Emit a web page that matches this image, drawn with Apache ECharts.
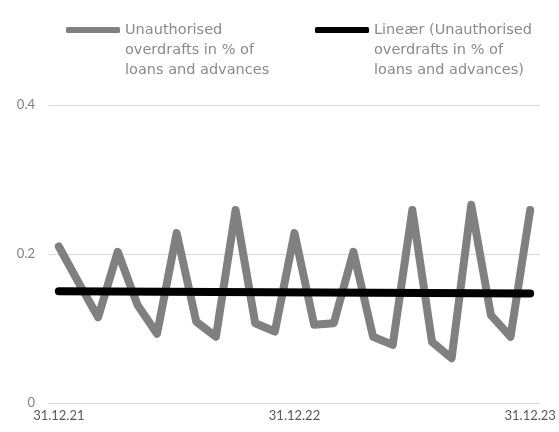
<!DOCTYPE html>
<html>
<head>
<meta charset="utf-8">
<script src="https://cdn.jsdelivr.net/npm/echarts@6/dist/echarts.min.js"></script>
<style>
  html, body { margin: 0; padding: 0; background: #fff; }
  #chart { width: 559px; height: 432px; }
</style>
</head>
<body>
<div id="chart"></div>
<script>
// month ends 31.12.21 .. 31.12.23
const categories = [
  '31.12.21', '31.01.22', '28.02.22', '31.03.22', '30.04.22', '31.05.22', '30.06.22',
  '31.07.22', '31.08.22', '30.09.22', '31.10.22', '30.11.22', '31.12.22',
  '31.01.23', '28.02.23', '31.03.23', '30.04.23', '31.05.23', '30.06.23',
  '31.07.23', '31.08.23', '30.09.23', '31.10.23', '30.11.23', '31.12.23'
]
const overdraftValues = [
  0.210, 0.162, 0.115, 0.203, 0.132, 0.093, 0.228, 0.109, 0.089, 0.259, 0.107, 0.096, 0.228,
  0.105, 0.107, 0.203, 0.089, 0.078, 0.259, 0.082, 0.060, 0.266, 0.118, 0.089, 0.259
]
const trendValues = [
  0.150, null, null, null, null, null, null, null, null, null, null, null, null,
  null, null, null, null, null, null, null, null, null, null, null, 0.147
]
const yTicks = [0, 0.2, 0.4]
const xLabelsShown = ['31.12.21', '31.12.22', '31.12.23']

const seriesNames = [
  'Unauthorised\noverdrafts in % of\nloans and advances',
  'Lineær (Unauthorised\noverdrafts in % of\nloans and advances)'
]

const chart = echarts.init(document.getElementById('chart'))

// two empty lines on top so the icon sits on the first text line
const legendBase = {
  top: -20,
  padding: 0,
  icon: 'roundRect',
  itemWidth: 54,
  itemHeight: 6,
  itemGap: 0,
  formatter: function(name) {
    return ' \n \n' + name
  },
  textStyle: {
    fontFamily: 'DejaVu Sans',
    fontSize: 14.5,
    color: '#8a8a8a',
    lineHeight: 20
  }
}

chart.setOption({
  animation: false,
  textStyle: { fontFamily: 'Lato' },
  grid: {
    top: 105,
    left: 49,
    right: 19,
    bottom: 29
  },
  legend: [
    Object.assign({}, legendBase, { data: [seriesNames[0]], left: 66 }),
    Object.assign({}, legendBase, { data: [seriesNames[1]], left: 315 })
  ],
  xAxis: {
    type: 'category',
    data: categories,
    boundaryGap: true,
    axisLine: {
      show: true,
      lineStyle: { color: '#d9d9d9', width: 1 }
    },
    axisTick: { show: false },
    axisLabel: {
      interval: 0,
      formatter: function(val) {
        return xLabelsShown.indexOf(val) >= 0 ? val : ''
      },
      color: '#595959',
      fontSize: 13,
      margin: 6
    }
  },
  yAxis: {
    type: 'value',
    min: yTicks[0],
    max: yTicks[yTicks.length - 1],
    interval: 0.2,
    axisLine: { show: false },
    axisTick: { show: false },
    axisLabel: {
      color: '#808080',
      fontSize: 13,
      margin: 14
    },
    splitLine: {
      lineStyle: { color: '#d9d9d9', width: 1 }
    }
  },
  series: [
    {
      name: seriesNames[0],
      type: 'line',
      data: overdraftValues,
      symbol: 'none',
      itemStyle: { color: '#808080' },
      lineStyle: { color: '#808080', width: 8, cap: 'round', join: 'round' }
    },
    {
      name: seriesNames[1],
      type: 'line',
      data: trendValues,
      connectNulls: true,
      symbol: 'none',
      itemStyle: { color: '#000' },
      lineStyle: { color: '#000', width: 8, cap: 'round' }
    }
  ]
})
</script>
</body>
</html>
